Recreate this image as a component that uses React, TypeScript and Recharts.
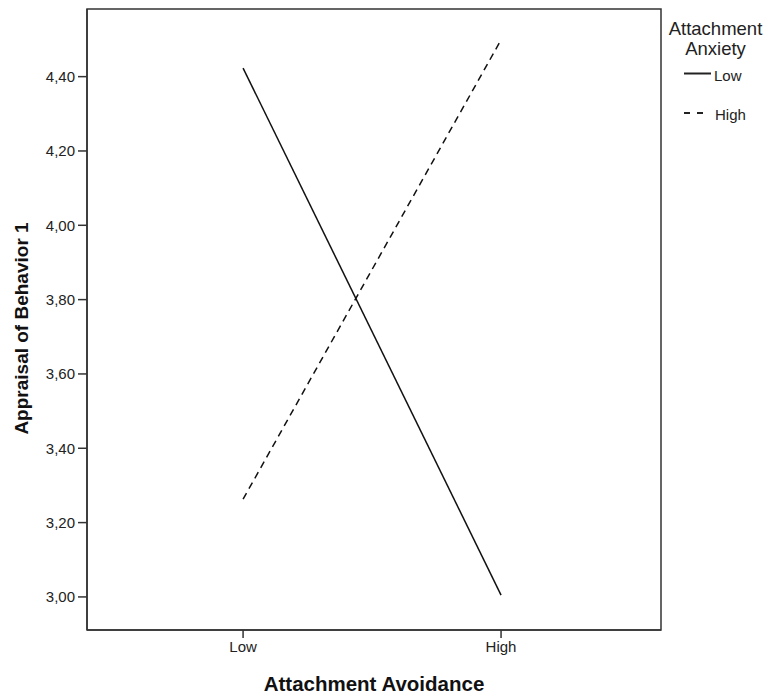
import React from "react";
import {
  LineChart,
  Line,
  XAxis,
  YAxis,
  ReferenceArea,
} from "recharts";

// avoidance levels on the x axis (1 = Low, 2 = High)
const avoidance = [1, 2];
const avoidanceLabels = ["Low", "High"];
// appraisal means per anxiety group
const lowAnxiety = [4.423, 3.005];
const highAnxiety = [3.263, 4.499];
const yTicks = [3.0, 3.2, 3.4, 3.6, 3.8, 4.0, 4.2, 4.4];

const X_DOMAIN: [number, number] = [0.395, 2.62];
const Y_DOMAIN: [number, number] = [2.911, 4.582];

const FONT = "'Liberation Sans', Arial, sans-serif";
const INK = "#222";

const data = avoidance.map((x, i) => ({
  x,
  low: lowAnxiety[i],
  high: highAnxiety[i],
}));

const fmt = (v: number) => v.toFixed(2).replace(".", ",");

function LegendBox() {
  return (
    <svg
      width={108}
      height={130}
      style={{ position: "absolute", left: 660, top: 0, fontFamily: FONT, overflow: "visible" }}
    >
      <text x={55.5} y={35} textAnchor="middle" fontSize={18.5} fill={INK}>
        Attachment
      </text>
      <text x={55.5} y={55} textAnchor="middle" fontSize={18.5} fill={INK}>
        Anxiety
      </text>
      <line x1={24} x2={51} y1={73.5} y2={73.5} stroke="#222" strokeWidth={2} />
      <text x={54} y={81} fontSize={15} fill={INK}>
        Low
      </text>
      <line
        x1={24}
        x2={43}
        y1={113}
        y2={113}
        stroke="#222"
        strokeWidth={2}
        strokeDasharray="6 7"
      />
      <text x={55} y={120} fontSize={15} fill={INK}>
        High
      </text>
    </svg>
  );
}

// rotated y-axis title, a little below the plot centre like the original
function YTitle(props: any) {
  const vb = props.viewBox || {};
  const cx = (vb.x ?? 0) + 21;
  const cy = (vb.y ?? 0) + (vb.height ?? 0) / 2 + 9;
  return (
    <text
      x={cx}
      y={cy}
      transform={`rotate(-90, ${cx}, ${cy})`}
      textAnchor="middle"
      dominantBaseline="central"
      fontSize={19}
      fontWeight={700}
      fill="#111"
      fontFamily={FONT}
    >
      Appraisal of Behavior 1
    </text>
  );
}

export default function App() {
  return (
    <div
      style={{
        position: "absolute",
        left: 0,
        top: 0,
        width: 768,
        height: 697,
        background: "#fff",
      }}
    >
      <LineChart
        width={768}
        height={697}
        data={data}
        margin={{ top: 9, right: 107, bottom: 0, left: 0 }}
      >
        <XAxis
          dataKey="x"
          type="number"
          domain={X_DOMAIN}
          ticks={avoidance}
          tickFormatter={(v: number) => avoidanceLabels[v - 1]}
          height={67}
          tickSize={8}
          tickMargin={3}
          stroke="#333"
          strokeWidth={1.5}
          tick={{ fill: INK, fontSize: 15, fontFamily: FONT }}
          label={{
            value: "Attachment Avoidance",
            position: "insideBottom",
            offset: 6,
            style: { fontSize: 20.5, fontWeight: 700, fill: "#111", fontFamily: FONT },
          }}
        />
        <YAxis
          type="number"
          domain={Y_DOMAIN}
          ticks={yTicks}
          tickFormatter={fmt}
          width={87}
          tickSize={9}
          tickMargin={3}
          stroke="#333"
          strokeWidth={1.5}
          tick={{ fill: INK, fontSize: 15, fontFamily: FONT }}
          label={<YTitle />}
        />
        {/* box around the plot area */}
        <ReferenceArea
          x1={X_DOMAIN[0]}
          x2={X_DOMAIN[1]}
          y1={Y_DOMAIN[0]}
          y2={Y_DOMAIN[1]}
          fill="none"
          stroke="#333"
          strokeWidth={1.5}
          ifOverflow="visible"
        />
        <Line
          dataKey="low"
          name="Low"
          stroke="#111"
          strokeWidth={1.5}
          dot={false}
          isAnimationActive={false}
        />
        <Line
          dataKey="high"
          name="High"
          stroke="#111"
          strokeWidth={1.5}
          strokeDasharray="7 5"
          dot={false}
          isAnimationActive={false}
        />
      </LineChart>
      <LegendBox />
    </div>
  );
}
